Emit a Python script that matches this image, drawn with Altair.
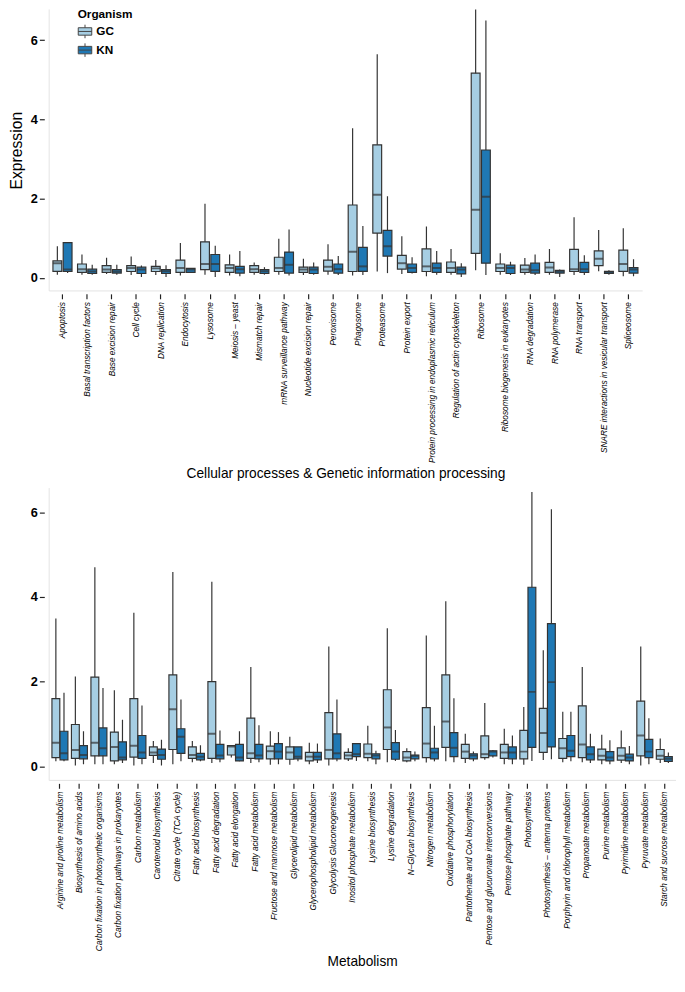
import altair as alt
import pandas as pd

organisms = ["GC", "KN"]
organism_colors = ["#a6cee3", "#1f78b4"]

cell_categories = [
    "Apoptosis", "Basal transcription factors", "Base excision repair", "Cell cycle",
    "DNA replication", "Endocytosis", "Lysosome", "Meiosis – yeast", "Mismatch repair",
    "mRNA surveillance pathway", "Nucleotide excision repair", "Peroxisome", "Phagosome",
    "Proteasome", "Protein export", "Protein processing in endoplasmic reticulum",
    "Regulation of actin cytoskeleton", "Ribosome", "Ribosome biogenesis in eukaryotes",
    "RNA degradation", "RNA polymerase", "RNA transport",
    "SNARE interactions in vesicular transport", "Spliceosome",
]
cell_gc_min = [0.08, 0.08, 0.10, 0.07, 0.07, 0.06, 0.08, 0.06, 0.08, 0.08, 0.07, 0.08,
               0.06, 0.16, 0.10, 0.04, 0.08, 0.19, 0.08, 0.08, 0.08, 0.07, 0.165, 0.04]
cell_gc_q1 = [0.165, 0.14, 0.14, 0.16, 0.16, 0.14, 0.21, 0.14, 0.14, 0.16, 0.14, 0.17,
              0.16, 1.13, 0.22, 0.16, 0.14, 0.62, 0.16, 0.14, 0.14, 0.16, 0.31, 0.165]
cell_gc_med = [0.37, 0.22, 0.21, 0.25, 0.24, 0.25, 0.35, 0.25, 0.22, 0.25, 0.21, 0.28,
               0.66, 2.10, 0.37, 0.29, 0.25, 1.72, 0.25, 0.21, 0.26, 0.22, 0.48, 0.35]
cell_gc_q3 = [0.43, 0.35, 0.31, 0.31, 0.29, 0.45, 0.91, 0.33, 0.31, 0.52, 0.27, 0.45,
              1.84, 3.36, 0.57, 0.73, 0.40, 5.17, 0.35, 0.32, 0.39, 0.72, 0.68, 0.70]
cell_gc_max = [0.80, 0.59, 0.51, 0.54, 0.45, 0.88, 1.87, 0.59, 0.39, 0.99, 0.48, 0.85,
               3.78, 5.65, 1.05, 1.30, 0.73, 7.60, 0.62, 0.50, 0.73, 1.53, 1.21, 1.25]
cell_kn_min = [0.12, 0.08, 0.08, 0.02, 0.02, 0.12, 0.02, 0.04, 0.08, 0.06, 0.08, 0.07,
               0.07, 0.12, 0.11, 0.08, 0.02, 0.07, 0.07, 0.07, 0.02, 0.07, 0.08, 0.04]
cell_kn_q1 = [0.16, 0.11, 0.12, 0.11, 0.11, 0.14, 0.165, 0.12, 0.11, 0.12, 0.11, 0.12,
              0.165, 0.55, 0.14, 0.14, 0.10, 0.37, 0.11, 0.12, 0.12, 0.14, 0.11, 0.12]
cell_kn_med = [0.21, 0.16, 0.16, 0.21, 0.165, 0.21, 0.35, 0.22, 0.165, 0.33, 0.21, 0.22,
               0.29, 0.80, 0.25, 0.25, 0.21, 2.05, 0.25, 0.19, 0.16, 0.22, 0.14, 0.21]
cell_kn_q3 = [0.89, 0.22, 0.21, 0.27, 0.21, 0.24, 0.59, 0.29, 0.21, 0.65, 0.27, 0.35,
              0.77, 1.20, 0.35, 0.37, 0.27, 3.23, 0.32, 0.37, 0.19, 0.39, 0.165, 0.26]
cell_kn_max = [0.90, 0.33, 0.33, 0.31, 0.32, 0.25, 0.81, 0.68, 0.27, 1.22, 0.39, 0.55,
               1.31, 2.06, 0.52, 0.68, 0.37, 6.50, 0.41, 0.59, 0.21, 0.57, 0.19, 0.47]

met_categories = [
    "Arginine and proline metabolism", "Biosynthesis of amino acids",
    "Carbon fixation in photosynthetic organisms", "Carbon fixation pathways in prokaryotes",
    "Carbon metabolism", "Carotenoid biosynthesis", "Citrate cycle (TCA cycle)",
    "Fatty acid biosynthesis", "Fatty acid degradation", "Fatty acid elongation",
    "Fatty acid metabolism", "Fructose and mannose metabolism", "Glycerolipid metabolism",
    "Glycerophospholipid metabolism", "Glycolysis Gluconeogenesis",
    "Inositol phosphate metabolism", "Lysine biosynthesis", "Lysine degradation",
    "N–Glycan biosynthesis", "Nitrogen metabolism", "Oxidative phosphorylation",
    "Pantothenate and CoA biosynthesis", "Pentose and glucuronate interconversions",
    "Pentose phosphate pathway", "Photosynthesis", "Photosynthesis – antenna proteins",
    "Porphyrin and chlorophyll metabolism", "Propanoate metabolism", "Purine metabolism",
    "Pyrimidine metabolism", "Pyruvate metabolism", "Starch and sucrose metabolism",
]
met_gc_min = [0.12, 0.02, 0.05, 0.05, 0.02, 0.08, 0.05, 0.10, 0.08, 0.21, 0.08, 0.04,
              0.04, 0.05, 0.02, 0.13, 0.12, 0.10, 0.10, 0.09, 0.12, 0.08, 0.155, 0.05,
              0.04, 0.15, 0.10, 0.10, 0.05, 0.08, 0.02, 0.08]
met_gc_q1 = [0.21, 0.19, 0.25, 0.13, 0.22, 0.26, 0.40, 0.19, 0.19, 0.27, 0.19, 0.18,
             0.17, 0.13, 0.18, 0.18, 0.21, 0.40, 0.13, 0.21, 0.45, 0.19, 0.21, 0.19,
             0.18, 0.33, 0.19, 0.21, 0.155, 0.15, 0.25, 0.17]
met_gc_med = [0.56, 0.39, 0.56, 0.46, 0.49, 0.33, 1.35, 0.27, 0.77, 0.47, 0.31, 0.36,
              0.33, 0.23, 0.39, 0.26, 0.30, 0.92, 0.21, 0.54, 1.06, 0.35, 0.29, 0.33,
              0.35, 0.79, 0.43, 0.52, 0.25, 0.25, 0.73, 0.25]
met_gc_q3 = [1.60, 0.99, 2.11, 0.81, 1.60, 0.46, 2.16, 0.46, 2.00, 0.49, 1.14, 0.48,
             0.46, 0.33, 1.27, 0.33, 0.53, 1.81, 0.35, 1.39, 2.16, 0.52, 0.72, 0.52,
             0.85, 1.37, 0.66, 1.43, 0.41, 0.44, 1.54, 0.40]
met_gc_max = [3.49, 2.12, 4.70, 1.80, 3.63, 0.60, 4.59, 0.60, 4.36, 0.50, 2.35, 0.83,
              0.70, 0.56, 2.83, 0.43, 0.96, 3.26, 0.43, 3.09, 3.90, 0.77, 1.50, 0.89,
              1.40, 2.74, 1.29, 2.35, 0.75, 0.85, 2.83, 0.66]
met_kn_min = [0.12, 0.05, 0.05, 0.08, 0.05, 0.02, 0.12, 0.12, 0.10, 0.12, 0.10, 0.05,
              0.12, 0.08, 0.12, 0.13, 0.05, 0.13, 0.12, 0.12, 0.10, 0.12, 0.21, 0.05,
              0.13, 0.17, 0.12, 0.08, 0.05, 0.05, 0.05, 0.08]
met_kn_q1 = [0.155, 0.18, 0.25, 0.155, 0.19, 0.17, 0.31, 0.155, 0.18, 0.13, 0.18, 0.18,
             0.18, 0.155, 0.18, 0.23, 0.18, 0.17, 0.18, 0.18, 0.23, 0.18, 0.25, 0.18,
             0.45, 0.46, 0.23, 0.155, 0.13, 0.13, 0.21, 0.12]
met_kn_med = [0.31, 0.27, 0.43, 0.21, 0.33, 0.27, 0.70, 0.23, 0.26, 0.21, 0.26, 0.35,
              0.23, 0.23, 0.31, 0.29, 0.26, 0.35, 0.25, 0.33, 0.44, 0.26, 0.35, 0.33,
              1.76, 1.99, 0.37, 0.29, 0.21, 0.21, 0.35, 0.18]
met_kn_q3 = [0.83, 0.49, 0.91, 0.58, 0.73, 0.41, 0.89, 0.31, 0.52, 0.52, 0.52, 0.54,
             0.46, 0.33, 0.77, 0.54, 0.30, 0.56, 0.27, 0.43, 0.80, 0.30, 0.37, 0.46,
             4.23, 3.37, 0.73, 0.46, 0.35, 0.29, 0.64, 0.23]
met_kn_max = [1.74, 0.83, 1.85, 1.10, 1.44, 0.63, 1.58, 0.50, 0.85, 0.83, 0.97, 0.81,
              0.46, 0.54, 1.58, 0.54, 0.37, 0.86, 0.35, 0.96, 1.61, 0.35, 0.39, 0.73,
              6.48, 6.07, 1.29, 0.77, 0.62, 0.48, 1.14, 0.33]

y_ticks = [0, 2, 4, 6]


def build(cats, gc, kn):
    rows = []
    for org, stats in zip(organisms, (gc, kn)):
        for i, c in enumerate(cats):
            rows.append({"Pathway": c, "Organism": org, "lo": stats[0][i], "q1": stats[1][i],
                         "med": stats[2][i], "q3": stats[3][i], "hi": stats[4][i]})
    return pd.DataFrame(rows)


cell_df = build(cell_categories,
                (cell_gc_min, cell_gc_q1, cell_gc_med, cell_gc_q3, cell_gc_max),
                (cell_kn_min, cell_kn_q1, cell_kn_med, cell_kn_q3, cell_kn_max))
met_df = build(met_categories,
               (met_gc_min, met_gc_q1, met_gc_med, met_gc_q3, met_gc_max),
               (met_kn_min, met_kn_q1, met_kn_med, met_kn_q3, met_kn_max))

FONT = "Liberation Sans"
BOX_SYMBOL = "M-1,-0.55H1V0.55H-1Z M-1,0H1 M0,-0.55V-1 M0,0.55V1"


def panel(df, cats, width, height, ydomain, xtitle, ytitle, box_size, show_legend):
    yscale = alt.Scale(domain=ydomain, nice=False, zero=False)
    yaxis = alt.Axis(title=ytitle, values=y_ticks, grid=False, domain=False,
                     tickColor="#222", tickSize=5, tickWidth=1.2, offset=6,
                     labelFontSize=13, labelFontWeight="bold", labelColor="#000",
                     labelPadding=2, labelFont=FONT, titleFont=FONT,
                     titleFontSize=16, titleFontWeight="normal", titleColor="#000",
                     titlePadding=6)

    xenc = alt.X("Pathway:N", sort=cats,
                 scale=alt.Scale(paddingInner=0, paddingOuter=0),
                 axis=alt.Axis(title=xtitle, domain=False, grid=False, tickColor="#222",
                               tickSize=5, tickWidth=1.2, offset=3, labelAngle=270,
                               labelFont=FONT, labelFontSize=8.4, labelLimit=400,
                               labelFontStyle="italic", labelColor="#000",
                               labelPadding=3, titleFont=FONT,
                               titleFontSize=14, titleFontWeight="normal",
                               titleColor="#000", titlePadding=4, labelOverlap=False))
    xoff = alt.XOffset("Organism:N", sort=organisms,
                       scale=alt.Scale(domain=organisms, paddingInner=0, paddingOuter=0.2))

    base = alt.Chart(df).encode(x=xenc, xOffset=xoff)

    whisk = base.mark_rule(color="#333", strokeWidth=1.2, clip=True).encode(
        y=alt.Y("lo:Q", scale=yscale, axis=yaxis), y2="hi:Q")

    legend = None
    if show_legend:
        legend = alt.Legend(title="Organism", orient="none", legendX=28, legendY=0,
                            titleFont=FONT, titleFontSize=12,
                            titleFontWeight="bold", titleColor="#000",
                            labelFont=FONT, labelFontSize=12,
                            labelFontWeight="bold", labelColor="#000",
                            symbolType=BOX_SYMBOL, symbolSize=190,
                            symbolStrokeColor="#444", symbolStrokeWidth=1,
                            symbolOpacity=1, rowPadding=0, titlePadding=3)
    box = base.mark_bar(size=box_size, stroke="#333", strokeWidth=1.2, clip=True).encode(
        y=alt.Y("q1:Q", scale=yscale, axis=yaxis), y2="q3:Q",
        color=alt.Color("Organism:N", sort=organisms,
                        scale=alt.Scale(domain=organisms, range=organism_colors),
                        legend=legend))
    med = base.mark_tick(color="#333", thickness=2, size=box_size, clip=True).encode(
        y=alt.Y("med:Q", scale=yscale, axis=yaxis))

    one = alt.Data(values=[{"a": 1}])
    vline = alt.Chart(one).mark_rule(color="#e3e3e3", strokeWidth=1).encode(
        x=alt.value(-1), y=alt.value(0), y2=alt.value(height))
    hline = alt.Chart(one).mark_rule(color="#e3e3e3", strokeWidth=1).encode(
        x=alt.value(-1), x2=alt.value(width + 2), y=alt.value(height))

    return alt.layer(vline, hline, whisk, box, med).properties(width=width, height=height)


top = panel(cell_df, cell_categories, 602, 287, [-0.33, 6.78],
            "Cellular processes & Genetic information processing", "Expression", 9, True)
bottom = panel(met_df, met_categories, 636, 298, [-0.33, 6.57],
               "Metabolism", None, 8, False)

chart = alt.vconcat(top, bottom, spacing=7).resolve_scale(
    xOffset="independent", x="independent", y="independent"
).properties(
    padding={"left": 0, "top": -9, "right": 0, "bottom": 0}
).configure_view(stroke=None)

chart.save("out.html", embed_options={"renderer": "svg", "actions": False})
